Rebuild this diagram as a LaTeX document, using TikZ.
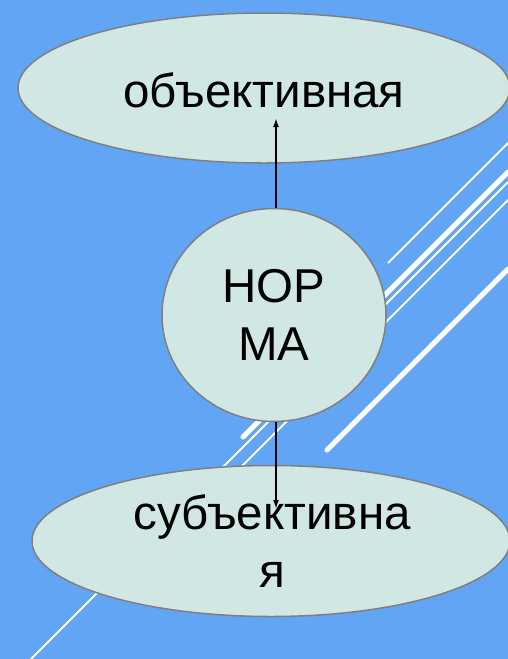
\documentclass[tikz,border=0pt]{standalone}
\usepackage{fontspec}
\setmainfont{Liberation Sans}
\usetikzlibrary{shapes.geometric,arrows.meta}
\definecolor{bgblue}{RGB}{98,165,245}
\definecolor{shapefill}{RGB}{208,231,227}
\definecolor{shapeline}{RGB}{128,128,128}
\tikzset{
  shapebox/.style={ellipse,draw=shapeline,line width=1.5pt,fill=shapefill,inner sep=0pt},
  lbl/.style={align=center,inner sep=0pt,font=\fontsize{47.5}{58}\selectfont},
  thinline/.style={white,line width=1.8pt},
  thickline/.style={white,line width=5pt,line cap=round},
  conn/.style={black,line width=1.8pt,-{Latex[length=9pt,width=6pt]}}
}
\begin{document}
\begin{tikzpicture}[x=1pt,y=-1pt]
\fill[bgblue] (0,0) rectangle (508,659);
\useasboundingbox (0,0) rectangle (508,659);
% decorative diagonal lines
\draw[thinline] (388,263) -- (508,143);
\draw[thickline] (243,437) -- (508,172);
\draw[thinline] (31,659) -- (508,182);
\draw[thinline] (200,508) -- (508,200);
\draw[thickline] (327,450) -- (508,269);
% shapes
\node[shapebox,minimum width=492pt,minimum height=150pt] (obj) at (264,88) {};
\node[shapebox,minimum width=224pt,minimum height=213pt] (norma) at (274,315) {};
\node[shapebox,minimum width=478pt,minimum height=151pt] (subj) at (271,541) {};
\node[lbl] (tobj) at (264,90) {объективная};
\node[lbl] (tnorma) at (274,315) {НОР\\МА};
\node[lbl] (tsubj) at (272,541) {субъективна\\я};
% connectors
\coordinate (up) at (276,118);
\coordinate (down) at (276,509);
\draw[conn] (norma.north -| up) -- (up);
\draw[conn] (norma.south -| down) -- (down);
\end{tikzpicture}
\end{document}
